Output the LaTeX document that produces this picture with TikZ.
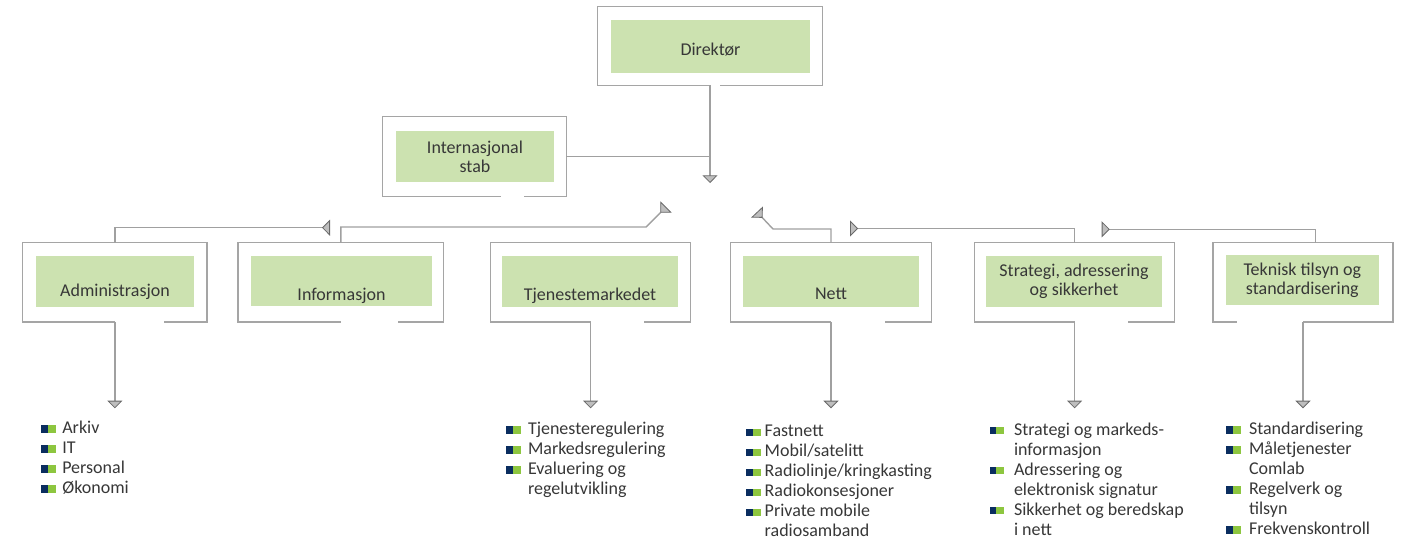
\documentclass[tikz,border=0pt]{standalone}
\usepackage{fontspec}
\setmainfont{Carlito}
\usetikzlibrary{arrows.meta}
\definecolor{boxgreen}{RGB}{204,226,176}
\definecolor{framegray}{RGB}{165,165,165}
\definecolor{linegray}{RGB}{160,160,160}
\definecolor{tipfill}{RGB}{190,190,190}
\definecolor{tipdark}{RGB}{105,105,105}
\definecolor{navy}{RGB}{10,45,95}
\definecolor{leafgreen}{RGB}{141,198,63}
\definecolor{textgray}{RGB}{55,55,55}
\newcommand{\sqmark}{\raisebox{1pt}{\textcolor{navy}{\rule{6.5pt}{7.3pt}}\textcolor{leafgreen}{\rule{8pt}{7.3pt}}}}
\tikzset{
  frame_n/.style = {inner sep=0pt, minimum height=79pt},
  frame_l/.style = {draw=framegray, line width=1.3pt},
  green_n/.style = {fill=boxgreen, inner sep=0pt, text=textgray, align=center,
    font=\fontsize{18}{19}\selectfont},
  conn/.style = {draw=linegray, line width=1.4pt},
  down_tip/.style = {-{Triangle[length=7.6pt, width=15pt, color=tipdark,
    fill=tipfill, line width=0.8pt]}},
  back_tip/.style = {-{Triangle[reversed, length=8pt, width=16pt, color=tipdark,
    fill=tipfill, line width=0.8pt]}},
  item_list/.style = {anchor=north west, inner sep=0pt, align=left,
    text=textgray, font=\fontsize{18}{20}\selectfont}
}
\begin{document}
\begin{tikzpicture}[x=1pt, y=-1pt]
\useasboundingbox (0,0) rectangle (1408,541);

\node [frame_n, minimum width=224pt, minimum height=78pt] (dir) at (710,46) {};
\node [green_n, minimum width=199pt, text height=35pt, text depth=18pt] (dir_g) at (710.5,46.5) {Direktør};
\node [frame_n, minimum width=183.3pt] (stab) at (474.4,156.5) {};
\node [green_n, minimum width=158pt, minimum height=51pt] (stab_g) at (475,156.5) {Internasjonal\\stab};

\node [frame_n, minimum width=183.7pt] (adm) at (114.85,282.2) {};
\node [green_n, minimum width=158pt, text height=40.7pt, text depth=10pt] (adm_g) at (115,281.35) {Administrasjon};
\node [frame_n, minimum width=205pt] (inf) at (340.8,282.2) {};
\node [green_n, minimum width=181pt, text height=44pt, text depth=5.7pt] (inf_g) at (341.5,280.85) {Informasjon};
\node [frame_n, minimum width=199.3pt] (tje) at (590.6,282.2) {};
\node [green_n, minimum width=176pt, text height=44pt, text depth=6.7pt] (tje_g) at (590,281.35) {Tjenestemarkedet};
\node [frame_n, minimum width=200pt] (nett) at (831,282.2) {};
\node [green_n, minimum width=175.4pt, text height=43.3pt, text depth=7.4pt] (nett_g) at (831,281.35) {Nett};
\node [frame_n, minimum width=199.3pt] (strat) at (1074.6,282.2) {};
\node [green_n, minimum width=176pt, minimum height=50.7pt] (strat_g) at (1074,281.35) {Strategi, adressering\\og sikkerhet};
\node [frame_n, minimum width=179.4pt] (tek) at (1303,282.2) {};
\node [green_n, minimum width=152.7pt, minimum height=49.4pt] (tek_g) at (1302.35,280) {Teknisk tilsyn og\\standardisering};

\draw [frame_l] (dir.south) -| (dir.north west) -| (dir.south east) -- ++(-102,0);
\draw [frame_l] ([xshift=118pt]stab.south west) -| (stab.north west) -| (stab.south east) -- ++(-42,0);
\draw [frame_l] (adm.south) -| (adm.north west) -| (adm.south east) -- ++(-42.7,0);
\draw [frame_l] (inf.south) -| (inf.north west) -| (inf.south east) -- ++(-45.6,0);
\draw [frame_l] (tje.south) -| (tje.north west) -| (tje.south east) -- ++(-46,0);
\draw [frame_l] (nett.south) -| (nett.north west) -| (nett.south east) -- ++(-46,0);
\draw [frame_l] (strat.south) -| (strat.north west) -| (strat.south east) -- ++(-46,0);
\draw [frame_l] (tek.south) -| (tek.north east) -| (tek.south west) -- ++(24,0);

\coordinate (dir_tip) at (710,183);
\coordinate (adm_end) at (330,227.7);
\coordinate (inf_end) at (666,207);
\coordinate (nett_end) at (757,212);
\coordinate (strat_end) at (850,228.5);
\coordinate (tek_end) at (1101.7,229.3);
\coordinate (tip_row) at (0,408.3);

\draw [conn, down_tip] (dir.south) -- (dir_tip);
\draw [conn] (stab.east) -- (stab.east -| dir_tip);
\draw [conn, back_tip] (adm.north) |- (adm_end);
\draw [conn, back_tip] (inf.north) |- ([shift={(-20,20)}]inf_end) -- (inf_end);
\draw [conn, back_tip] (nett.north) |- ([shift={(16,17)}]nett_end) -- (nett_end);
\draw [conn, back_tip] (strat.north) |- (strat_end);
\draw [conn, back_tip] ([xshift=12.7pt]tek.north) |- (tek_end);

\draw [conn, down_tip] (adm.south) -- (adm.south |- tip_row);
\draw [conn, down_tip] (tje.south) -- (tje.south |- tip_row);
\draw [conn, down_tip] (nett.south) -- (nett.south |- tip_row);
\draw [conn, down_tip] (strat.south) -- (strat.south |- tip_row);
\draw [conn, down_tip] (tek.south) -- (tek.south |- tip_row);

\node [item_list] (adm_list) at (41,419.3) {\sqmark\hspace{6.6pt}Arkiv\strut\\
  \sqmark\hspace{6.6pt}IT\\
  \sqmark\hspace{6.6pt}Personal\\
  \sqmark\hspace{6.6pt}Økonomi};
\node [item_list] (tje_list) at (506,420.3) {\sqmark\hspace{7.3pt}Tjenesteregulering\strut\\
  \sqmark\hspace{7.3pt}Markedsregulering\\
  \sqmark\hspace{7.3pt}Evaluering og\\
  \hspace*{21.8pt}regelutvikling};
\node [item_list] (nett_list) at (746,422.7) {\sqmark\hspace{4pt}Fastnett\strut\\
  \sqmark\hspace{4pt}Mobil/satelitt\\
  \sqmark\hspace{4pt}Radiolinje/kringkasting\\
  \sqmark\hspace{4pt}Radiokonsesjoner\\
  \sqmark\hspace{4pt}Private mobile\\
  \hspace*{18.5pt}radiosamband};
\node [item_list] (strat_list) at (989.3,421) {\sqmark\hspace{10pt}Strategi og markeds-\strut\\
  \hspace*{24.5pt}informasjon\\
  \sqmark\hspace{10pt}Adressering og\\
  \hspace*{24.5pt}elektronisk signatur\\
  \sqmark\hspace{10pt}Sikkerhet og beredskap\\
  \hspace*{24.5pt}i nett};
\node [item_list] (tek_list) at (1226,420.3) {\sqmark\hspace{8.3pt}Standardisering\strut\\
  \sqmark\hspace{8.3pt}Måletjenester\\
  \hspace*{22.8pt}Comlab\\
  \sqmark\hspace{8.3pt}Regelverk og\\
  \hspace*{22.8pt}tilsyn\\
  \sqmark\hspace{8.3pt}Frekvenskontroll};
\end{tikzpicture}
\end{document}
